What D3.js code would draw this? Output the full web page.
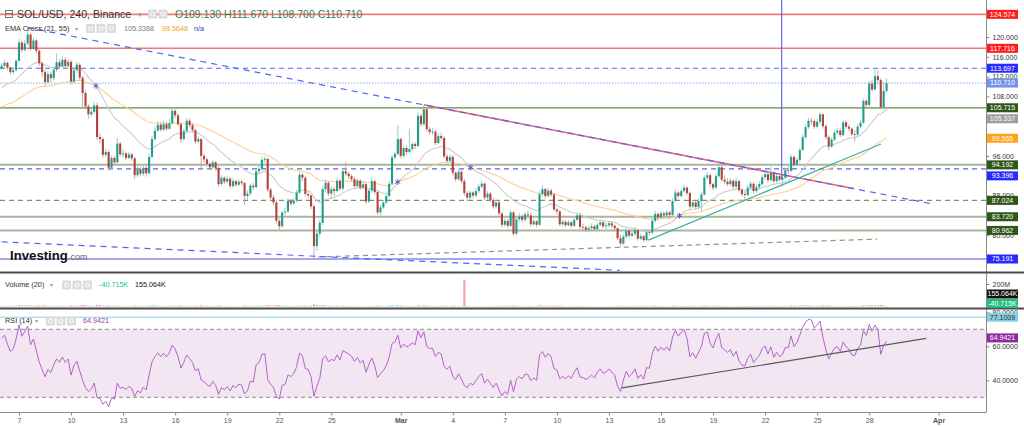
<!DOCTYPE html>
<html><head><meta charset="utf-8">
<script src="https://cdn.jsdelivr.net/npm/d3@7"></script>
<style>body{margin:0;background:#fff;}svg{display:block;font-family:"Liberation Sans",Arial,sans-serif;}</style>
</head><body><svg id="c" width="1024" height="427"></svg>
<script>
// ---------------- DATA ----------------
const firstCandleUTC = [2022, 1, 6, 0];   // Feb 6 2022 00:00, 4h candles
const firstOpen = 113.6;
const closes = [
114.2,114.8,113.8,112.9,113.3,115.2, 118.9,117.4,118.7,120.5,117.6,119.3,
117.2,114.7,112.9,110.9,112.5,111.7, 113.4,114.9,114.1,115.4,114.2,115.0,
111.0,113.3,114.4,111.8,108.7,106.0, 104.4,104.9,106.2,99.8,99.4,96.2,
96.8,93.6,95.6,94.7,98.5,96.3, 96.5,95.6,96.3,95.5,92.1,93.3,
92.4,93.6,92.5,95.8,99.4,101.1, 102.3,101.3,102.4,101.5,102.6,105.1,
104.2,102.4,99.4,101.0,103.1,102.2, 101.2,98.9,99.4,96.0,95.3,94.4,
93.7,94.7,93.5,90.3,91.6,90.8, 91.4,89.9,90.9,90.2,90.8,90.5,
87.9,88.4,90.0,89.7,92.9,93.4, 95.2,95.4,89.2,87.6,86.6,82.9,
81.8,84.6,84.8,86.9,86.4,87.0, 88.6,92.2,91.6,88.3,88.0,85.8,
77.8,80.3,82.5,89.3,90.6,88.4, 89.3,88.9,91.0,89.4,92.9,92.4,
91.9,91.3,89.9,91.0,89.6,90.3, 86.8,89.0,90.9,88.7,84.6,85.6,
86.6,87.9,90.4,95.7,96.4,99.4, 96.0,97.6,96.8,97.4,98.4,98.0,
104.1,102.4,105.4,101.4,100.8,100.9, 98.6,100.0,99.6,95.9,95.0,95.8,
92.6,91.3,92.8,90.9,88.5,87.6, 88.6,88.0,88.9,89.8,90.4,87.6,
88.4,87.1,85.8,86.6,84.4,82.1, 82.9,81.9,84.6,80.3,83.2,83.8,
83.1,84.2,84.0,82.2,82.8,82.1, 88.3,89.3,87.9,89.0,88.2,85.2,
84.8,82.2,82.7,82.0,82.6,81.9, 83.1,84.0,81.7,81.6,81.1,81.4,
81.8,81.2,82.1,82.6,81.8,82.0, 82.4,81.9,81.4,79.4,78.3,79.7,
80.9,79.9,80.3,81.0,79.3,79.8, 79.0,80.6,80.5,82.9,84.3,83.6,
84.4,84.0,84.6,84.1,86.9,88.6, 87.9,88.9,89.6,88.5,85.8,86.6,
85.7,86.9,88.2,91.6,92.1,90.3, 89.6,91.9,93.7,91.2,90.8,90.3,
91.0,89.8,90.9,89.1,88.3,88.1, 89.6,90.4,88.9,89.7,90.3,91.7,
92.3,91.1,92.6,90.9,91.9,91.2, 91.6,93.1,93.0,95.8,94.2,95.2,
97.2,99.8,101.8,103.1,103.0,101.9, 102.9,104.4,102.0,99.8,97.9,99.3,
100.7,101.1,100.2,102.8,101.9,101.5, 100.4,100.3,101.9,102.7,107.1,106.3,
110.6,109.4,112.1,111.3,105.8,109.13, 110.71];
const highs = [
114.8,115.4,115.0,114.1,113.9,115.6, 119.6,119.3,119.4,121.9,120.8,119.9,
119.6,117.6,115.1,113.4,113.1,112.9, 113.9,116.7,115.5,116.1,115.9,115.6,
115.3,113.9,115.0,114.8,112.2,109.2, 106.5,105.6,106.9,106.8,100.6,99.8,
97.5,97.2,96.1,96.0,99.7,98.8, 97.4,96.9,96.8,96.6,95.8,93.9,
93.8,94.1,93.9,96.4,100.0,101.9, 103.0,102.8,103.1,102.9,103.4,105.6,
105.4,104.6,102.7,101.5,103.7,103.5, 102.6,101.5,100.0,99.6,96.4,95.6,
94.9,95.2,95.0,93.9,92.1,91.9, 92.0,91.8,91.4,91.2,91.3,91.2,
90.8,89.0,90.4,90.6,93.4,94.0, 95.9,96.0,95.7,89.6,88.2,87.1,
83.4,85.0,85.6,87.4,87.3,87.5, 89.2,92.8,92.6,92.0,88.9,88.3,
86.2,81.0,83.1,89.9,91.2,90.9, 89.9,89.8,91.5,91.3,93.5,94.8,
92.8,92.3,91.8,91.5,91.3,90.8, 90.6,89.5,91.8,91.2,89.0,86.1,
87.1,88.3,91.0,96.2,96.9,102.2, 99.7,98.1,98.1,101.5,98.9,98.8,
104.8,104.5,106.2,105.6,101.9,101.6, 101.2,100.6,100.7,100.0,96.4,96.3,
96.2,92.9,93.3,93.2,91.4,88.9, 89.0,88.9,89.4,90.3,91.0,90.7,
88.9,88.7,87.6,87.1,86.9,84.7, 83.4,83.3,85.1,84.9,83.7,84.5,
84.2,84.7,84.9,84.5,83.3,83.1, 88.9,90.1,89.6,89.6,89.4,88.5,
85.6,85.1,83.2,83.0,83.1,82.9, 83.6,84.4,84.5,82.3,81.9,82.0,
82.4,82.1,82.6,83.0,82.8,82.5, 82.9,82.8,82.2,81.6,80.1,80.2,
81.5,81.3,80.8,81.6,81.3,80.3, 80.1,81.1,81.0,83.4,84.9,84.6,
84.9,84.8,85.1,84.9,87.4,89.2, 88.9,89.4,90.1,89.9,88.8,87.1,
86.9,87.4,88.7,92.1,92.7,92.4, 90.6,92.4,94.3,94.0,92.1,91.5,
91.5,91.3,91.5,91.2,89.5,88.9, 90.1,90.9,90.7,90.2,90.9,92.2,
92.8,92.7,93.8,93.0,92.4,92.3, 92.1,93.6,93.9,96.3,96.1,95.7,
97.7,100.3,102.4,103.6,103.7,103.4, 103.4,104.8,104.6,102.3,100.2,99.8,
101.2,101.6,101.7,103.3,103.2,102.4, 101.8,101.2,102.4,103.2,107.6,107.4,
111.2,111.4,113.7,113.3,111.7,110.9, 111.67];
const lows = [
113.2,113.8,113.3,112.4,112.5,113.0, 115.0,116.9,117.1,118.3,117.2,117.4,
116.7,114.2,112.0,110.1,110.5,110.8, 111.3,113.0,113.5,113.8,113.6,113.9,
110.4,110.6,112.8,111.2,105.6,105.4, 103.5,103.9,104.5,99.3,98.5,95.6,
95.8,93.0,93.3,94.2,94.5,95.9, 95.7,95.1,95.3,95.0,91.3,91.7,
91.9,92.0,91.8,92.3,95.5,99.0, 100.8,100.9,101.0,101.1,101.2,102.3,
103.6,102.0,98.6,99.1,100.7,101.7, 100.7,98.4,98.5,93.2,94.6,93.9,
93.2,93.4,93.0,89.8,90.0,90.3, 90.4,89.4,89.6,89.7,89.9,90.0,
86.1,87.2,88.0,89.1,89.5,92.5, 93.0,94.6,88.7,86.8,86.0,82.4,
80.9,81.5,84.0,84.5,85.9,86.1, 86.6,88.3,90.9,87.8,87.4,85.2,
75.19,76.8,79.6,82.0,88.6,87.9, 87.3,87.8,88.6,89.0,89.1,91.9,
91.3,90.8,89.4,89.6,89.1,89.3, 86.3,86.5,88.6,88.2,84.1,84.0,
85.3,86.3,87.6,90.1,95.3,96.1, 95.5,95.7,96.2,96.6,96.9,97.4,
97.8,101.9,102.1,100.9,100.3,100.2, 98.1,98.3,99.1,95.4,94.6,94.7,
92.1,90.8,91.0,90.4,87.9,86.8, 87.2,87.5,87.6,88.5,89.5,87.1,
87.2,86.6,85.3,85.4,83.9,81.6, 81.7,81.4,81.6,79.9,80.0,82.7,
82.6,82.8,83.4,81.7,81.9,81.6, 81.9,87.8,87.4,87.6,87.7,84.8,
84.2,81.8,81.7,81.6,81.8,81.5, 81.6,82.8,81.2,81.0,80.6,80.7,
81.1,80.8,81.0,81.8,81.4,81.3, 81.6,81.4,80.9,79.0,77.7,78.0,
79.4,79.5,79.6,79.8,78.9,79.0, 78.6,78.7,79.9,80.2,82.5,83.1,
83.3,83.5,83.7,83.6,83.9,86.6, 87.4,87.6,88.6,88.0,85.3,85.5,
85.2,85.4,84.8,88.0,91.2,89.8, 89.1,89.3,91.6,90.8,90.2,89.9,
89.9,89.3,89.4,88.6,87.8,87.1, 87.8,89.2,88.4,88.5,89.2,90.0,
91.2,90.6,90.9,90.4,90.5,90.8, 89.8,91.3,92.4,92.7,93.8,94.0,
94.8,97.0,99.4,101.5,102.3,101.4, 101.6,102.5,101.5,99.3,97.2,97.6,
99.0,100.3,99.8,100.0,101.5,101.0, 100.0,98.9,99.9,101.5,102.5,105.8,
106.0,109.0,109.2,110.4,105.4,105.5, 108.7];
const volumesM = [
5,4,5,6,5,8, 12,9,7,11,10,7, 8,9,8,11,6,5, 6,8,5,6,5,4, 10,7,6,9,14,10, 8,5,6,15,12,7,
7,10,7,5,9,6, 5,4,4,4,9,6, 6,5,5,8,12,10, 7,5,5,4,6,9, 6,7,10,6,7,5, 5,8,5,11,7,6,
5,5,5,10,6,4, 4,5,3,3,3,3, 9,6,6,4,8,6, 8,6,13,9,7,12, 11,8,6,7,5,5, 6,9,6,9,5,7,
20,13,9,14,9,7, 6,5,6,5,8,7, 5,4,5,4,4,3, 5,5,6,5,9,6, 5,5,7,13,7,10, 9,6,5,7,5,4,
11,7,9,10,6,5, 6,5,5,9,6,4, 8,6,5,6,236,6, 4,3,3,4,3,5, 3,4,5,4,6,8, 7,6,7,9,8,5,
5,4,5,7,4,5, 14,8,7,6,5,8, 7,9,5,4,4,4, 5,5,7,4,4,3, 3,3,3,3,3,3, 3,3,3,6,7,5,
6,5,4,5,7,5, 6,6,4,7,8,5, 5,4,4,4,8,9, 6,5,5,5,8,5, 4,5,6,10,7,6, 5,7,8,7,5,4,
4,4,5,5,5,5, 5,5,6,5,6,6, 6,5,7,6,5,5, 5,6,5,9,7,5, 9,10,10,9,7,6, 6,8,10,9,9,6,
5,4,4,6,4,4, 4,5,5,5,11,7, 13,10,12,9,14,10, 5];

// Indicator seeds (values read at the left edge)
const ema21Seed = 109.3, ema55Seed = 105.5;
const rsiSeedGain = 0.6, rsiSeedLoss = 0.35;

// Horizontal levels
const levelPrices = [124.574,117.716,113.697,110.710,105.715,94.192,93.396,87.024,83.720,80.962,75.191];
const levelLabels = ["124.574","117.716","113.697","110.710","105.715","94.192","93.396","87.024","83.720","80.962","75.191"];
const levelKinds  = ["red","red","blueDash","last","green","gray","blueDash","greenDash","gray","gray","blue"];
const emaLabelValues = [105.337, 99.565];
const emaLabelTexts = ["105.337","99.565"];

// Drawn trend lines [startUTC, startPrice, endUTC, endPrice]
const trendKinds = ["red","diagBlue","teal","olive","lowBlue"];
const trendPoints = [
  ["2022-03-02T08:00Z",106.31,"2022-03-27T02:00Z",89.42],
  ["2022-02-07T12:00Z",121.9,"2022-03-31T12:00Z",86.4],
  ["2022-03-15T06:30Z",79.0,"2022-03-28T16:20Z",98.4],
  ["2022-02-24T05:30Z",75.6,"2022-03-28T11:00Z",79.2],
  ["2022-02-06T00:00Z",78.67,"2022-03-13T15:00Z",72.9]];
const verticalLine = ["2022-03-22T23:00Z",127.5,91.3];

// RSI drawings
const rsiLevels = [70,30];
const rsiCursorLevel = 77.1009;
const rsiTrend = ["2022-03-13T18:00Z",35.5,"2022-03-31T06:40Z",64.7];
const rsiLabelVals = [77.1009, 64.9421];
const rsiLabelTexts = ["77.1009","64.9421"];

// Axes
const priceTicks = [76,80,84,88,92,96,100,104,108,112,116,120];
const rsiTicks = [40,60,80];
const volTicks = [200];
const dateTickISO = ["2022-02-07","2022-02-10","2022-02-13","2022-02-16","2022-02-19","2022-02-22","2022-02-25","2022-03-01","2022-03-04","2022-03-07","2022-03-10","2022-03-13","2022-03-16","2022-03-19","2022-03-22","2022-03-25","2022-03-28","2022-04-01"];
const dateTickLabels = ["7","10","13","16","19","22","25","Mar","4","7","10","13","16","19","22","25","28","Apr"];

// Header texts
const titleText = "SOL/USD, 240, Binance";
const ohlcText = "O109.130 H111.670 L108.700 C110.710";
const emaTitle = "EMA Cross (21, 55)";
const emaVals = ["105.3368","99.5648","n/a"];
const volTitle = "Volume (20)";
const volVals = ["-40.715K","155.064K"];
const rsiTitle = "RSI (14)";
const rsiValText = "64.9421";

// ---------------- CHART ----------------
const svg = d3.select("#c");
const AX = 986;
const MAIN = [0, 271], VOL = [274, 308], RSI = [309.5, 411];
const x = d3.scaleUtc().domain([new Date(Date.UTC(2022,1,7)), new Date(Date.UTC(2022,3,1))]).range([19, 938.6]);
const y = d3.scaleLinear().domain([72.77, 127.47]).range([MAIN[1], MAIN[0]]);
const yv = d3.scaleLinear().domain([0, 200]).range([306.5, 284]);
const yr = d3.scaleLinear().domain([21.94, 81.65]).range([RSI[1], RSI[0]]);

const t0 = Date.UTC(...firstCandleUTC);
const candles = closes.map((c, i) => {
  const o = i ? closes[i-1] : firstOpen;
  return {t: new Date(t0 + i*4*3600e3), o, c, h: Math.max(highs[i], o, c), l: Math.min(lows[i], o, c), v: volumesM[i]};
});
function ema(n, seed){ const a = 2/(n+1); let e = seed; return candles.map(d => (e = a*d.c + (1-a)*e)); }
const e21 = ema(21, ema21Seed), e55 = ema(55, ema55Seed);
const rsi = []; { let ag = rsiSeedGain, al = rsiSeedLoss, p = firstOpen;
  candles.forEach(d => { const ch = d.c - p; ag = (ag*13 + Math.max(ch,0))/14; al = (al*13 + Math.max(-ch,0))/14; rsi.push(100 - 100/(1+ag/al)); p = d.c; }); }

const defs = svg.append("defs");
function clip(id, y0, y1){ defs.append("clipPath").attr("id", id).append("rect").attr("x",0).attr("y",y0).attr("width",AX).attr("height",y1-y0); }
clip("cm", MAIN[0], MAIN[1]); clip("cv", VOL[0], VOL[1]); clip("cr", RSI[0], RSI[1]);

const gMain = svg.append("g").attr("clip-path","url(#cm)");
const styleOf = {
  red:{s:"#f07a7a",w:1.6,d:null,bg:"#ff1e1e"},
  blueDash:{s:"#5566f2",w:1.2,d:"5,4",bg:"#2a2aff"},
  last:{s:"#a4bdf6",w:1.2,d:"1.5,1.5",bg:"#7394ee"},
  green:{s:"#5f8c46",w:1.2,d:null,bg:"#2f5519"},
  gray:{s:"#aab59e",w:2,d:null,bg:"#2f5519"},
  greenDash:{s:"#7f9070",w:1.2,d:"5,4",bg:"#2f5519"},
  blue:{s:"#4a4af2",w:1.2,d:null,bg:"#2a2aff"}
};
levelPrices.forEach((p, i) => {
  const st = styleOf[levelKinds[i]];
  gMain.append("line").attr("x1",0).attr("x2",AX).attr("y1",y(p)).attr("y2",y(p))
    .attr("stroke",st.s).attr("stroke-width",st.w).attr("stroke-dasharray",st.d);
});
const lineGen = (arr, sc) => d3.line().x((d,i)=>x(candles[i].t)).y(d=>sc(d));
gMain.append("path").attr("d", lineGen(e55, y)(e55)).attr("fill","none").attr("stroke","#ffcf8f").attr("stroke-width",1.1);
gMain.append("path").attr("d", lineGen(e21, y)(e21)).attr("fill","none").attr("stroke","#cccccc").attr("stroke-width",1.1);

const bw = 2.1;
const cg = gMain.append("g");
cg.selectAll("line.w").data(candles).join("line").attr("class","w")
  .attr("x1",d=>x(d.t)).attr("x2",d=>x(d.t)).attr("y1",d=>y(d.h)).attr("y2",d=>y(d.l))
  .attr("stroke",d=>d.c>=d.o?"#8cc9bd":"#c9a09c").attr("stroke-width",0.9);
cg.selectAll("rect").data(candles).join("rect")
  .attr("x",d=>x(d.t)-bw/2).attr("width",bw)
  .attr("y",d=>y(Math.max(d.o,d.c))).attr("height",d=>Math.max(0.8, Math.abs(y(d.o)-y(d.c))))
  .attr("fill",d=>d.c>=d.o?"#1f9e8b":"#b0433b");

for (let i = 1; i < candles.length; i++) {
  const a = e21[i-1]-e55[i-1], b = e21[i]-e55[i];
  if (a*b < 0) {
    const f = a/(a-b);
    const xx = x(candles[i-1].t) + f*(x(candles[i].t)-x(candles[i-1].t));
    const yy = y(e21[i-1] + f*(e21[i]-e21[i-1]));
    gMain.append("path").attr("d", d3.symbol(d3.symbolAsterisk, 22)()).attr("transform",`translate(${xx},${yy})`)
      .attr("stroke","#5656d0").attr("stroke-width",1).attr("fill","none");
  }
}

const trendStyle = {
  red:{s:"#f0646e",w:1.6,d:null}, diagBlue:{s:"#5563f0",w:1.2,d:"6,5"},
  teal:{s:"#3bb3a0",w:1.3,d:null}, olive:{s:"#8a9a72",w:1.2,d:"5,4"}, lowBlue:{s:"#5563f0",w:1.2,d:"6,5"}
};
trendPoints.forEach((tp, i) => {
  const st = trendStyle[trendKinds[i]];
  gMain.append("line").attr("x1",x(new Date(tp[0]))).attr("y1",y(tp[1])).attr("x2",x(new Date(tp[2]))).attr("y2",y(tp[3]))
    .attr("stroke",st.s).attr("stroke-width",st.w).attr("stroke-dasharray",st.d);
});
gMain.append("line").attr("x1",x(new Date(verticalLine[0]))).attr("x2",x(new Date(verticalLine[0])))
  .attr("y1",y(verticalLine[1])).attr("y2",y(verticalLine[2])).attr("stroke","#5858e6").attr("stroke-width",1.1);

// ---- volume panel
const gVol = svg.append("g").attr("clip-path","url(#cv)");
gVol.selectAll("rect").data(candles).join("rect")
  .attr("x",d=>x(d.t)-bw/2).attr("width",bw).attr("y",d=>yv(d.v)).attr("height",d=>yv(0)-yv(d.v))
  .attr("fill",d=>d.c>=d.o?"#92d3c6":"#f0a3a3");

// ---- RSI panel
const gR = svg.append("g").attr("clip-path","url(#cr)");
gR.append("rect").attr("x",0).attr("width",AX).attr("y",yr(70)).attr("height",yr(30)-yr(70)).attr("fill","#f3e6f3");
rsiLevels.forEach(l => gR.append("line").attr("x1",0).attr("x2",AX).attr("y1",yr(l)).attr("y2",yr(l))
  .attr("stroke","#8a8a8a").attr("stroke-dasharray","4,3").attr("stroke-width",1));
gR.append("line").attr("x1",0).attr("x2",AX).attr("y1",yr(rsiCursorLevel)).attr("y2",yr(rsiCursorLevel)).attr("stroke","#8ed3e6").attr("stroke-width",1.2);
gR.append("path").attr("d", lineGen(rsi, yr)(rsi)).attr("fill","none").attr("stroke","#b463c6").attr("stroke-width",1);
gR.append("line").attr("x1",x(new Date(rsiTrend[0]))).attr("y1",yr(rsiTrend[1])).attr("x2",x(new Date(rsiTrend[2]))).attr("y2",yr(rsiTrend[3]))
  .attr("stroke","#5a5a5a").attr("stroke-width",1.2);

// ---- separators & axes
svg.append("line").attr("x1",AX+0.5).attr("x2",AX+0.5).attr("y1",0).attr("y2",412).attr("stroke","#8a8a8a");
[272.5, 308.5].forEach(v => svg.append("line").attr("x1",0).attr("x2",1024).attr("y1",v).attr("y2",v).attr("stroke","#4d4d4d").attr("stroke-width",2));
svg.append("line").attr("x1",0).attr("x2",AX+0.5).attr("y1",412.5).attr("y2",412.5).attr("stroke","#8a8a8a");

// right-side tags (computed first so fully covered tick labels can be skipped)
const tags = levelPrices.map((p,i)=>({y:y(p), t:levelLabels[i], bg:styleOf[levelKinds[i]].bg, fg:"#fff"}));
tags.push({y:y(emaLabelValues[0]), t:emaLabelTexts[0], bg:"#9e9e9e", fg:"#fff"});
tags.push({y:y(emaLabelValues[1]), t:emaLabelTexts[1], bg:"#ffa31a", fg:"#fff"});
tags.sort((a,b)=>a.y-b.y);
for (let i=1;i<tags.length;i++) if (tags[i].y < tags[i-1].y+11) tags[i].y = tags[i-1].y+11;
const visibleTicks = priceTicks.filter(p => !tags.some(t => Math.abs(t.y - y(p)) < 4.5));

function rAxis(sc, ticks, fmt){
  const g = svg.append("g").attr("transform",`translate(${AX+0.5},0)`)
    .call(d3.axisRight(sc).tickValues(ticks).tickFormat(fmt).tickSize(3).tickPadding(3));
  g.select(".domain").remove();
  g.selectAll("line").attr("stroke","#8a8a8a");
  g.selectAll("text").attr("font-size",7).attr("fill","#333").attr("font-family","Liberation Sans, Arial, sans-serif");
}
rAxis(y, visibleTicks, d3.format(".3f"));
rAxis(yv, volTicks, d=>d+"M");
rAxis(yr, rsiTicks, d3.format(".4f"));

const bx = svg.append("g").attr("transform","translate(0,412.5)")
  .call(d3.axisBottom(x).tickValues(dateTickISO.map(s=>new Date(s+"T00:00Z"))).tickFormat((d,i)=>dateTickLabels[i]).tickSize(3).tickPadding(3));
bx.select(".domain").remove();
bx.selectAll("line").attr("stroke","#8a8a8a");
bx.selectAll("text").attr("font-size",7).attr("fill","#555").attr("font-family","Liberation Sans, Arial, sans-serif")
  .attr("font-weight",(d,i)=>isNaN(+dateTickLabels[i])?"bold":"normal");

function tag(yy, txt, bg, fg){
  svg.append("rect").attr("x",AX+1).attr("y",yy-4.5).attr("width",31).attr("height",9).attr("fill",bg);
  svg.append("text").attr("x",AX+16.5).attr("y",yy).attr("dy","0.35em").attr("text-anchor","middle")
    .attr("font-size",7).attr("fill",fg).text(txt);
}
tags.forEach(d=>tag(d.y, d.t, d.bg, d.fg));
tag(VOL[1]-4.5, volVals[0], "#22c07e", "#fff");
tag(VOL[1]-14, volVals[1], "#111", "#fff");
tag(yr(rsiLabelVals[0]), rsiLabelTexts[0], "#86cde2", "#333");
tag(yr(rsiLabelVals[1]), rsiLabelTexts[1], "#8e2a9e", "#fff");

// ---- headers
function icons(x0, yTop, n){
  for (let k=0;k<n;k++){
    svg.append("rect").attr("x",x0+k*10.5).attr("y",yTop).attr("width",9).attr("height",9).attr("rx",1).attr("fill","#dcdcdc");
    svg.append("circle").attr("cx",x0+k*10.5+4.5).attr("cy",yTop+4.5).attr("r",2).attr("fill","none").attr("stroke","#fff").attr("stroke-width",1);
  }
}
svg.append("rect").attr("x",5.5).attr("y",10.5).attr("width",7).attr("height",7).attr("fill","none").attr("stroke","#777");
svg.append("line").attr("x1",5.5).attr("x2",12.5).attr("y1",13.5).attr("y2",13.5).attr("stroke","#777");
svg.append("text").attr("x",17).attr("y",18.3).attr("font-size",10.6).attr("fill","#333").text(titleText);
svg.append("text").attr("x",138).attr("y",17).attr("font-size",7).attr("fill","#999").text("▾");
icons(148, 9.5, 2);
svg.append("text").attr("x",175).attr("y",18.3).attr("font-size",10.5).attr("fill","#3a7d4a").text(ohlcText);

svg.append("text").attr("x",5).attr("y",30.7).attr("font-size",7.4).attr("fill","#333").text(emaTitle);
svg.append("text").attr("x",75).attr("y",30.5).attr("font-size",6).attr("fill","#999").text("▾");
icons(86, 24, 3);
svg.append("text").attr("x",124).attr("y",30.7).attr("font-size",7.2).attr("fill","#777").text(emaVals[0]);
svg.append("text").attr("x",162).attr("y",30.7).attr("font-size",7.2).attr("fill","#f0a020").text(emaVals[1]);
svg.append("text").attr("x",194).attr("y",30.7).attr("font-size",7.2).attr("fill","#2d3da8").text(emaVals[2]);

svg.append("text").attr("x",5).attr("y",287.3).attr("font-size",7.3).attr("fill","#333").text(volTitle);
svg.append("text").attr("x",50).attr("y",287).attr("font-size",6).attr("fill","#999").text("▾");
icons(62, 280.5, 3);
svg.append("text").attr("x",99).attr("y",287.3).attr("font-size",7.2).attr("fill","#1fbf7a").text(volVals[0]);
svg.append("text").attr("x",135).attr("y",287.3).attr("font-size",7.2).attr("fill","#111").text(volVals[1]);

svg.append("text").attr("x",5).attr("y",323.3).attr("font-size",7.3).attr("fill","#333").text(rsiTitle);
svg.append("text").attr("x",35).attr("y",323).attr("font-size",6).attr("fill","#999").text("▾");
icons(46, 316.5, 3);
svg.append("text").attr("x",83).attr("y",323.3).attr("font-size",7.2).attr("fill","#a030b0").text(rsiValText);

const logo = svg.append("text").attr("x",10).attr("y",260).attr("font-size",13.2).attr("font-weight","bold").attr("fill","#111");
logo.append("tspan").text("Investing");
logo.append("tspan").attr("font-size",9).attr("font-weight","normal").attr("fill","#666").text(".com");
</script></body></html>
